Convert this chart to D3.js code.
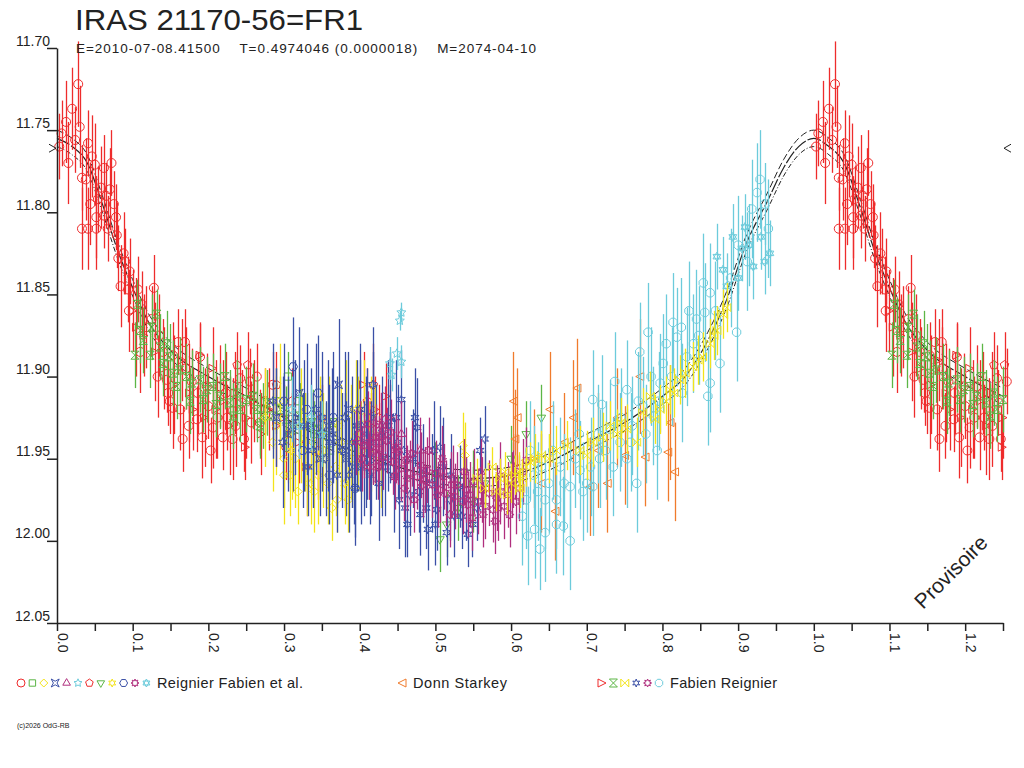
<!DOCTYPE html>
<html>
<head>
<meta charset="utf-8">
<script src="https://cdn.jsdelivr.net/npm/d3@7/dist/d3.min.js"></script>
<style>
  body { margin: 0; background: #fff; }
  svg { display: block; }
  text { font-family: "Liberation Sans", Arial, sans-serif; fill: #222; }
</style>
</head>
<body>
<svg width="1024" height="768"></svg>
<script>
// phase, magnitude, error  (phases < 0.25 are repeated at phase + 1)
var faRedCircle = [
  [0.006,11.752,0.02],[0.012,11.745,0.025],[0.020,11.737,0.025],[0.028,11.722,0.026],[0.030,11.748,0.025],
  [0.024,11.756,0.02],[0.041,11.758,0.02],[0.046,11.766,0.025],[0.033,11.779,0.02],[0.072,11.770,0.02],
  [0.050,11.771,0.025],[0.062,11.773,0.02],[0.038,11.780,0.025],[0.065,11.790,0.02],[0.070,11.786,0.025],
  [0.054,11.792,0.02],[0.075,11.795,0.02],[0.044,11.795,0.025],[0.078,11.803,0.02],[0.062,11.802,0.02],
  [0.052,11.803,0.025],[0.052,11.810,0.025],[0.067,11.810,0.02],[0.033,11.810,0.025],[0.041,11.810,0.025],
  [0.079,11.814,0.02],[0.088,11.825,0.025],[0.090,11.830,0.02],[0.081,11.828,0.02],[0.096,11.836,0.02],
  [0.084,11.845,0.025],[0.094,11.847,0.02],[0.107,11.847,0.02],[0.128,11.846,0.02],[0.095,11.860,0.025],
  [0.112,11.856,0.02],[0.160,11.879,0.02],[0.169,11.879,0.02],[0.149,11.915,0.02],[0.153,11.919,0.025],
  [0.166,11.938,0.02],[0.185,11.926,0.02],[0.192,11.937,0.025],[0.206,11.931,0.025],[0.219,11.937,0.02],
  [0.232,11.938,0.025],[0.242,11.901,0.02],[0.255,11.903,0.02],[0.257,11.928,0.025],[0.189,11.888,0.02],
  [0.198,11.906,0.02],[0.145,11.902,0.02],[0.178,11.903,0.02],[0.215,11.906,0.025],[0.153,11.887,0.02],
  [0.244,11.916,0.02],[0.264,11.900,0.02],[0.268,11.928,0.02],[0.303,11.943,0.02],[0.118,11.870,0.025],
  [0.125,11.865,0.02],[0.135,11.875,0.025],[0.140,11.885,0.02],[0.170,11.895,0.025],[0.200,11.918,0.02],
  [0.225,11.925,0.02],[0.232,11.921,0.02],[0.247,11.938,0.02],[0.275,11.915,0.02],[0.285,11.905,0.02],
  [0.110,11.885,0.025],[0.133,11.900,0.025],[0.147,11.910,0.02],[0.163,11.920,0.025],[0.174,11.930,0.02],
  [0.186,11.910,0.025],[0.203,11.945,0.02],[0.212,11.925,0.025],[0.223,11.910,0.025],[0.236,11.930,0.025],
  [0.003,11.760,0.02],[0.015,11.770,0.025],[0.058,11.785,0.025]
];
var faRedPentagon = [
  [0.238,11.893,0.02],[0.252,11.893,0.02],[0.290,11.905,0.02],[0.310,11.915,0.02],[0.350,11.925,0.02],
  [0.410,11.915,0.02],[0.418,11.905,0.025],[0.425,11.925,0.02],[0.345,11.945,0.025]
];
var frRedRight = [
  [0.100,11.860,0.025],[0.105,11.870,0.03],[0.115,11.875,0.025],[0.130,11.885,0.03],[0.142,11.895,0.025],
  [0.155,11.905,0.03],[0.165,11.890,0.025],[0.175,11.910,0.03],[0.180,11.920,0.025],[0.189,11.887,0.02],
  [0.195,11.925,0.03],[0.206,11.895,0.025],[0.210,11.920,0.03],[0.220,11.915,0.025],[0.228,11.930,0.03],
  [0.235,11.910,0.025],[0.249,11.943,0.02],[0.250,11.925,0.025],[0.260,11.915,0.025],[0.270,11.935,0.025],
  [0.280,11.920,0.025],[0.290,11.930,0.025],[0.300,11.925,0.02],[0.310,11.935,0.025],[0.320,11.940,0.025],
  [0.330,11.955,0.03],[0.345,11.950,0.025],[0.405,11.905,0.02],[0.415,11.930,0.02],[0.420,11.920,0.02],
  [0.435,11.912,0.02],[0.440,11.925,0.02]
];
var frGreenHourglass = [
  [0.103,11.887,0.02],[0.106,11.856,0.015],[0.132,11.862,0.015],[0.110,11.872,0.02],[0.114,11.878,0.02],
  [0.125,11.870,0.02],[0.123,11.887,0.02],[0.136,11.882,0.02],[0.140,11.892,0.02],[0.149,11.888,0.02],
  [0.153,11.898,0.02],[0.162,11.896,0.02],[0.171,11.900,0.02],[0.178,11.904,0.02],[0.189,11.902,0.02],
  [0.198,11.908,0.02],[0.206,11.906,0.02],[0.215,11.912,0.02],[0.222,11.900,0.02],[0.228,11.916,0.02],
  [0.238,11.910,0.02],[0.242,11.920,0.02],[0.250,11.914,0.02],[0.259,11.912,0.02],[0.264,11.920,0.02],
  [0.272,11.924,0.02],[0.277,11.916,0.02],[0.285,11.924,0.02],[0.295,11.920,0.02],[0.303,11.926,0.02],
  [0.312,11.932,0.02],[0.321,11.924,0.02],[0.330,11.930,0.02],[0.338,11.928,0.02],[0.347,11.932,0.02],
  [0.356,11.936,0.02],[0.365,11.928,0.02],[0.176,11.915,0.02],[0.193,11.914,0.02],[0.158,11.906,0.02],
  [0.233,11.924,0.02],[0.210,11.917,0.02],[0.268,11.930,0.02],[0.145,11.880,0.02]
];
var faGreenSquare = [
  [0.305,11.900,0.015],[0.320,11.915,0.02],[0.340,11.935,0.02],[0.360,11.945,0.02],[0.290,11.915,0.02],
  [0.500,11.960,0.02],[0.550,11.965,0.02]
];
var faGreenTriDown = [
  [0.506,11.999,0.02],[0.515,11.990,0.02],[0.530,11.980,0.02],[0.550,11.975,0.02],[0.565,11.965,0.02],
  [0.600,11.950,0.02],[0.620,11.935,0.02],[0.640,11.925,0.02]
];
var faYellowDiamond = [
  [0.275,11.925,0.03],[0.285,11.940,0.03],[0.295,11.915,0.035],[0.305,11.935,0.03],[0.315,11.950,0.03],
  [0.322,11.930,0.035],[0.330,11.955,0.03],[0.338,11.940,0.03],[0.345,11.960,0.03],[0.352,11.945,0.035],
  [0.360,11.930,0.03],[0.368,11.955,0.03],[0.375,11.940,0.035],[0.382,11.925,0.035],[0.390,11.950,0.03],
  [0.398,11.935,0.035],[0.405,11.925,0.035],[0.412,11.945,0.03],[0.420,11.935,0.03],[0.428,11.950,0.03],
  [0.536,11.942,0.02],[0.539,11.948,0.02],[0.300,11.960,0.03],[0.340,11.970,0.025],[0.370,11.975,0.02],
  [0.290,11.930,0.03],[0.308,11.960,0.025],[0.328,11.940,0.03],[0.348,11.935,0.035],[0.358,11.965,0.025],
  [0.372,11.930,0.03],[0.388,11.940,0.035],[0.402,11.945,0.03],[0.415,11.935,0.035],[0.300,11.950,0.03],
  [0.318,11.970,0.02],[0.363,11.980,0.02],[0.385,11.975,0.02]
];
var faYellowStar = [
  [0.310,11.945,0.03],[0.335,11.965,0.025],[0.355,11.950,0.03],[0.380,11.965,0.025],[0.395,11.920,0.03]
];
var faBlueHexagon = [
  [0.312,11.894,0.03],[0.394,11.968,0.03],[0.300,11.915,0.035],[0.330,11.920,0.04],[0.350,11.935,0.035],
  [0.365,11.925,0.04],[0.380,11.945,0.035],[0.400,11.930,0.04],[0.415,11.950,0.035],[0.325,11.945,0.035],
  [0.360,11.960,0.03],[0.345,11.910,0.035]
];
var faBlueCross = [
  [0.290,11.925,0.03],[0.305,11.935,0.035],[0.320,11.910,0.04],[0.335,11.930,0.035],[0.348,11.950,0.035],
  [0.370,11.940,0.04],[0.385,11.920,0.035],[0.392,11.955,0.035],[0.408,11.940,0.04],[0.430,11.935,0.035],
  [0.440,11.925,0.04],[0.372,11.905,0.04],[0.312,11.930,0.04],[0.358,11.930,0.04],[0.382,11.950,0.035],
  [0.402,11.955,0.035],[0.418,11.925,0.04]
];
var frBlueAster = [
  [0.466,11.972,0.025],[0.480,11.984,0.025],[0.490,11.993,0.025],[0.460,11.980,0.03],[0.543,11.996,0.02],
  [0.502,11.981,0.025],[0.549,11.990,0.02],[0.455,11.914,0.03],[0.473,11.925,0.03],[0.476,11.931,0.03],
  [0.417,11.905,0.035],[0.394,11.968,0.035],[0.565,11.938,0.02],[0.559,11.945,0.02],[0.506,11.943,0.025],
  [0.532,11.967,0.025],[0.519,11.975,0.025],[0.484,11.959,0.03],[0.430,11.950,0.035],[0.445,11.960,0.035],
  [0.450,11.940,0.035],[0.438,11.930,0.04],[0.470,11.950,0.03],[0.495,11.965,0.03],[0.510,11.955,0.03],
  [0.525,11.985,0.025],[0.540,11.975,0.025],[0.425,11.965,0.035],[0.410,11.935,0.04],[0.400,11.920,0.04],
  [0.390,11.940,0.04],[0.380,11.925,0.04],[0.370,11.960,0.035],[0.360,11.940,0.035],[0.350,11.925,0.04],
  [0.515,11.995,0.02],[0.498,11.945,0.03],[0.338,11.945,0.035],[0.326,11.930,0.04],[0.452,11.975,0.03],
  [0.285,11.915,0.035],[0.298,11.940,0.04],[0.315,11.925,0.035],[0.332,11.955,0.03],[0.342,11.920,0.04],
  [0.355,11.950,0.035],[0.364,11.935,0.04],[0.376,11.945,0.035],[0.386,11.960,0.035],[0.396,11.930,0.04],
  [0.405,11.950,0.035],[0.414,11.960,0.03],[0.422,11.940,0.035],[0.434,11.955,0.03],[0.448,11.925,0.035],
  [0.458,11.945,0.03],[0.463,11.990,0.02],[0.478,11.970,0.025],[0.488,11.980,0.025],[0.500,11.990,0.025],
  [0.520,11.960,0.025],[0.535,11.985,0.02],[0.555,11.980,0.02]
];
var frPurpleStar8 = [
  [0.400,11.935,0.02],[0.406,11.942,0.02],[0.411,11.929,0.02],[0.417,11.946,0.02],[0.421,11.937,0.02],
  [0.426,11.944,0.02],[0.431,11.949,0.02],[0.436,11.939,0.02],[0.441,11.934,0.02],[0.444,11.952,0.02],
  [0.451,11.946,0.02],[0.455,11.956,0.02],[0.461,11.951,0.02],[0.466,11.959,0.02],[0.469,11.947,0.02],
  [0.476,11.961,0.02],[0.481,11.954,0.02],[0.486,11.963,0.02],[0.489,11.957,0.02],[0.496,11.966,0.02],
  [0.501,11.959,0.02],[0.506,11.969,0.02],[0.511,11.961,0.02],[0.514,11.971,0.02],[0.521,11.966,0.02],
  [0.526,11.973,0.02],[0.529,11.966,0.02],[0.536,11.976,0.02],[0.541,11.969,0.02],[0.546,11.972,0.02],
  [0.551,11.964,0.02],[0.556,11.976,0.02],[0.561,11.969,0.02],[0.566,11.979,0.02],[0.571,11.971,0.02],
  [0.576,11.981,0.02],[0.581,11.974,0.02],[0.586,11.970,0.02],[0.591,11.979,0.02],[0.596,11.972,0.02],
  [0.601,11.966,0.02],[0.606,11.976,0.02],[0.611,11.968,0.02],[0.616,11.958,0.02],[0.620,11.951,0.02],
  [0.403,11.950,0.02],[0.433,11.926,0.02],[0.459,11.968,0.02],[0.491,11.945,0.02],[0.519,11.984,0.02],
  [0.549,11.986,0.02],[0.579,11.988,0.02],[0.472,11.975,0.02],[0.509,11.950,0.02],[0.446,11.961,0.02],
  [0.598,11.984,0.02],[0.424,11.955,0.02],[0.538,11.958,0.02],[0.413,11.940,0.02],[0.428,11.936,0.02],
  [0.448,11.943,0.02],[0.463,11.962,0.02],[0.483,11.966,0.02],[0.503,11.972,0.02],[0.523,11.962,0.02],
  [0.543,11.978,0.02],[0.563,11.984,0.02],[0.583,11.980,0.02],[0.603,11.960,0.02]
];
var faPurpleAster = [
  [0.395,11.940,0.02],[0.412,11.955,0.02],[0.428,11.930,0.02],[0.448,11.945,0.02],[0.585,11.960,0.02],
  [0.605,11.955,0.02]
];
var faPurpleTri = [
  [0.420,11.945,0.02],[0.455,11.935,0.02],[0.480,11.945,0.02],[0.560,11.958,0.02]
];
var faCyanStar = [
  [0.455,11.861,0.006],[0.453,11.866,0.006],[0.449,11.886,0.01],[0.455,11.891,0.01],[0.440,11.892,0.01],
  [0.442,11.899,0.01],[0.320,11.930,0.02],[0.335,11.925,0.02],[0.350,11.935,0.02],[0.310,11.920,0.02]
];
var faCyanDavid = [
  [0.872,11.827,0.02],[0.880,11.835,0.02],[0.893,11.815,0.02],[0.905,11.822,0.02],[0.909,11.809,0.02],
  [0.920,11.833,0.02],[0.942,11.825,0.02],[0.885,11.845,0.02],[0.900,11.840,0.02],[0.930,11.815,0.02],
  [0.935,11.830,0.02],[0.915,11.820,0.025]
];
var frCyanOctagon = [
  [0.622,11.997,0.03],[0.631,11.993,0.03],[0.645,11.995,0.03],[0.669,11.991,0.03],[0.678,12.000,0.03],
  [0.620,11.975,0.03],[0.635,11.970,0.03],[0.650,11.965,0.03],[0.660,11.975,0.03],[0.640,11.955,0.03],
  [0.655,11.945,0.03],[0.625,11.945,0.03],[0.766,11.965,0.03],[0.737,11.903,0.03],[0.708,11.914,0.03],
  [0.720,11.917,0.03],[0.781,11.873,0.03],[0.770,11.885,0.03],[0.814,11.867,0.03],[0.801,11.892,0.03],
  [0.854,11.843,0.03],[0.860,11.912,0.03],[0.863,11.904,0.03],[0.876,11.892,0.03],[0.898,11.873,0.03],
  [0.929,11.780,0.03],[0.918,11.798,0.03],[0.925,11.788,0.03],[0.863,11.849,0.03],[0.856,11.861,0.03],
  [0.797,11.904,0.03],[0.819,11.876,0.03],[0.841,11.880,0.03],[0.832,11.888,0.03],[0.753,11.908,0.03],
  [0.774,11.918,0.03],[0.788,11.924,0.03],[0.731,11.932,0.03],[0.744,11.940,0.03],[0.717,11.950,0.03],
  [0.691,11.957,0.03],[0.700,11.965,0.03],[0.678,11.967,0.03],[0.708,11.967,0.03],[0.793,11.945,0.03],
  [0.753,11.950,0.03],[0.935,11.795,0.025],[0.845,11.865,0.03],[0.826,11.910,0.03],[0.690,11.935,0.03],
  [0.665,11.955,0.03],[0.760,11.930,0.03],[0.630,11.960,0.03],[0.645,11.975,0.03],[0.670,11.965,0.03],
  [0.685,11.950,0.03],[0.695,11.970,0.03],[0.705,11.955,0.03],[0.715,11.935,0.03],[0.725,11.945,0.03],
  [0.735,11.955,0.03],[0.745,11.925,0.03],[0.758,11.940,0.03],[0.768,11.915,0.03],[0.778,11.935,0.03],
  [0.785,11.900,0.03],[0.795,11.915,0.03],[0.805,11.880,0.03],[0.812,11.900,0.03],[0.825,11.870,0.03],
  [0.835,11.860,0.03],[0.848,11.875,0.03],[0.870,11.860,0.03],[0.890,11.840,0.03],[0.900,11.820,0.03],
  [0.912,11.830,0.03],[0.940,11.810,0.03],[0.615,11.985,0.03],[0.660,11.990,0.03],[0.638,12.005,0.025]
];
var dsOrangeLeft = [
  [0.603,11.915,0.03],[0.651,11.920,0.035],[0.608,11.925,0.03],[0.687,11.907,0.03],[0.682,11.925,0.035],
  [0.658,11.982,0.03],[0.605,11.938,0.03],[0.770,11.900,0.035],[0.750,11.948,0.03],[0.777,11.949,0.03],
  [0.816,11.958,0.03],[0.807,11.946,0.03],[0.727,11.965,0.03],[0.704,11.967,0.03],[0.810,11.928,0.035],
  [0.630,11.950,0.03],[0.670,11.940,0.03],[0.715,11.945,0.035],[0.740,11.925,0.03],[0.640,11.965,0.03]
];
var frYellowBowtie = [
  [0.575,11.955,0.012],[0.585,11.962,0.012],[0.592,11.958,0.012],[0.600,11.965,0.012],[0.605,11.960,0.012],
  [0.610,11.958,0.012],[0.615,11.962,0.012],[0.620,11.955,0.012],[0.625,11.952,0.012],[0.632,11.950,0.015],
  [0.640,11.948,0.015],[0.650,11.950,0.015],[0.660,11.945,0.015],[0.674,11.942,0.015],[0.691,11.945,0.015],
  [0.708,11.940,0.015],[0.721,11.937,0.015],[0.731,11.930,0.015],[0.740,11.935,0.015],[0.753,11.932,0.015],
  [0.766,11.940,0.015],[0.774,11.922,0.015],[0.784,11.912,0.015],[0.797,11.920,0.015],[0.810,11.908,0.015],
  [0.815,11.910,0.015],[0.823,11.902,0.015],[0.830,11.898,0.015],[0.840,11.894,0.015],[0.847,11.890,0.015],
  [0.853,11.888,0.015],[0.863,11.880,0.015],[0.868,11.875,0.015],[0.872,11.872,0.015],[0.880,11.862,0.015],
  [0.885,11.858,0.015],[0.580,11.970,0.012],[0.595,11.972,0.012],[0.612,11.968,0.012],[0.555,11.962,0.012],
  [0.565,11.968,0.012],[0.700,11.948,0.015],[0.745,11.928,0.015],[0.790,11.926,0.015],[0.805,11.915,0.015]
];

// fitted light curve
var modelPhase = [0.00,0.02,0.04,0.06,0.08,0.10,0.12,0.15,0.20,0.25,0.30,0.35,0.40,0.45,0.50,0.55,0.60,0.65,0.70,0.75,0.80,0.83,0.86,0.885,0.91,0.94,0.96,0.98,1.00];
var modelMag   = [11.755,11.760,11.770,11.795,11.823,11.846,11.866,11.884,11.900,11.912,11.925,11.937,11.947,11.955,11.960,11.962,11.960,11.952,11.940,11.928,11.912,11.900,11.878,11.853,11.820,11.792,11.773,11.760,11.755];
var modelSigma = 0.005;
var maxLevel = 11.761;

var xTicks = d3.range(0, 25).map(function(i){ return i * 0.05; }).concat([1.25]);
var yTicks = [11.70,11.75,11.80,11.85,11.90,11.95,12.00,12.05];

var RED = "#ee2c2c", GREEN = "#5cb646", YELLOW = "#f3e31b", BLUE = "#3a4fa6",
    PURPLE = "#b02f7e", CYAN = "#6ccbdb", ORANGE = "#f07b2c";

var svg = d3.select("svg");
var x = d3.scaleLinear().domain([0, 1.25]).range([57, 1003]);
var y = d3.scaleLinear().domain([11.70, 12.05]).range([48, 623]);

// symbol shapes
function ring(n, r, rot) {
  var p = [];
  for (var i = 0; i < n; i++) { var a = rot + i * 2 * Math.PI / n; p.push([r * Math.cos(a), r * Math.sin(a)]); }
  return p;
}
function poly(n, r, rot) {
  return "M" + ring(n, r, rot).map(function(q){ return q[0].toFixed(2) + "," + q[1].toFixed(2); }).join("L") + "Z";
}
function star(n, r1, r2, rot) {
  var p = [];
  for (var i = 0; i < 2 * n; i++) {
    var a = rot + i * Math.PI / n, r = i % 2 ? r2 : r1;
    p.push((r * Math.cos(a)).toFixed(2) + "," + (r * Math.sin(a)).toFixed(2));
  }
  return "M" + p.join("L") + "Z";
}
var SYM = {
  circle:    function(r){ return "M" + r + ",0A" + r + "," + r + " 0 1,1 " + (-r) + ",0A" + r + "," + r + " 0 1,1 " + r + ",0Z"; },
  square:    function(r){ var s = r * 0.8; return "M" + (-s) + "," + (-s) + "H" + s + "V" + s + "H" + (-s) + "Z"; },
  diamond:   function(r){ return "M0," + (-r) + "L" + r + ",0L0," + r + "L" + (-r) + ",0Z"; },
  cross4:    function(r){ var k = r * 0.45; return "M" + (-r) + "," + (-r) + "L0," + (-k) + "L" + r + "," + (-r) + "L" + k + ",0L" + r + "," + r + "L0," + k + "L" + (-r) + "," + r + "L" + (-k) + ",0Z"; },
  triUp:     function(r){ return poly(3, r * 1.1, -Math.PI / 2); },
  star5:     function(r){ return star(5, r * 1.05, r * 0.5, -Math.PI / 2); },
  pentagon:  function(r){ return poly(5, r, -Math.PI / 2); },
  triDown:   function(r){ return poly(3, r * 1.1, Math.PI / 2); },
  star6:     function(r){ return star(6, r, r * 0.5, -Math.PI / 2); },
  hexagon:   function(r){ return poly(6, r, 0); },
  aster:     function(r){ return star(6, r, r * 0.35, -Math.PI / 2); },
  david:     function(r){ return poly(3, r, -Math.PI / 2) + poly(3, r, Math.PI / 2); },
  triLeft:   function(r){ return "M" + (-r) + ",0L" + r + "," + (-r) + "L" + r + "," + r + "Z"; },
  triRight:  function(r){ return "M" + r + ",0L" + (-r) + "," + (-r) + "L" + (-r) + "," + r + "Z"; },
  hourglass: function(r){ return "M" + (-r) + "," + (-r) + "H" + r + "L" + (-r) + "," + r + "H" + r + "Z"; },
  bowtie:    function(r){ return "M" + (-r) + "," + (-r) + "L" + r + "," + r + "V" + (-r) + "L" + (-r) + "," + r + "Z"; },
  snow:      function(r){ return star(6, r, r * 0.45, -Math.PI / 2); },
  star8:     function(r){ return star(8, r, r * 0.55, -Math.PI / 2); },
  octagon:   function(r){ return poly(8, r, Math.PI / 8); }
};

// fitted curve (drawn first, data goes over it)
var model = modelPhase.map(function(p, i){ return [p, modelMag[i]]; });
modelPhase.forEach(function(p, i){ if (p > 0 && p + 1 <= 1.25) model.push([p + 1, modelMag[i]]); });
function curveLine(off) {
  return d3.line().curve(d3.curveMonotoneX)
    .x(function(d){ return x(d[0]); })
    .y(function(d){ return y(d[1] + off); })(model);
}
svg.append("path").attr("d", curveLine(0)).attr("fill", "none").attr("stroke", "#222")
  .attr("stroke-width", 1.2).attr("stroke-dasharray", "14,2");
svg.append("path").attr("d", curveLine(-modelSigma)).attr("fill", "none").attr("stroke", "#222")
  .attr("stroke-width", 1).attr("stroke-dasharray", "7,3");
svg.append("path").attr("d", curveLine(modelSigma)).attr("fill", "none").attr("stroke", "#222")
  .attr("stroke-width", 1).attr("stroke-dasharray", "5,2,1,2");

var drawOrder = [
  { data: frRedRight, sym: "triRight", color: RED, r: 4 },
  { data: faRedCircle, sym: "circle", color: RED, r: 4.5 },
  { data: faRedPentagon, sym: "pentagon", color: RED, r: 4.5 },
  { data: frGreenHourglass, sym: "hourglass", color: GREEN, r: 4 },
  { data: faGreenSquare, sym: "square", color: GREEN, r: 4.5 },
  { data: faGreenTriDown, sym: "triDown", color: GREEN, r: 4.5 },
  { data: faYellowDiamond, sym: "diamond", color: YELLOW, r: 4.5 },
  { data: faBlueHexagon, sym: "hexagon", color: BLUE, r: 4.5 },
  { data: faBlueCross, sym: "cross4", color: BLUE, r: 4 },
  { data: faYellowStar, sym: "star6", color: YELLOW, r: 4.5 },
  { data: frBlueAster, sym: "snow", color: BLUE, r: 4.5 },
  { data: frPurpleStar8, sym: "star8", color: PURPLE, r: 4.5 },
  { data: faPurpleAster, sym: "aster", color: PURPLE, r: 4.5 },
  { data: faPurpleTri, sym: "triUp", color: PURPLE, r: 4.5 },
  { data: dsOrangeLeft, sym: "triLeft", color: ORANGE, r: 4 },
  { data: frCyanOctagon, sym: "octagon", color: CYAN, r: 4.5 },
  { data: faCyanStar, sym: "star5", color: CYAN, r: 4.5 },
  { data: faCyanDavid, sym: "david", color: CYAN, r: 4.5 },
  { data: frYellowBowtie, sym: "bowtie", color: YELLOW, r: 4 }
];

var plot = svg.append("g");

drawOrder.forEach(function(s) {
  var pts = [];
  s.data.forEach(function(d) {
    pts.push(d);
    if (d[0] + 1 <= 1.255) pts.push([d[0] + 1, d[1], d[2]]);
  });
  var g = plot.append("g").attr("stroke", s.color).attr("fill", "none");
  g.selectAll("line").data(pts).join("line")
    .attr("x1", function(d){ return Math.round(x(d[0])) + 0.5; })
    .attr("x2", function(d){ return Math.round(x(d[0])) + 0.5; })
    .attr("y1", function(d){ return y(d[1] - d[2]); })
    .attr("y2", function(d){ return y(d[1] + d[2]); })
    .attr("stroke-width", 1.3);
  g.selectAll("path").data(pts).join("path")
    .attr("transform", function(d){ return "translate(" + x(d[0]) + "," + y(d[1]) + ")"; })
    .attr("d", SYM[s.sym](s.r))
    .attr("stroke-width", 1);
});

// max-level markers
var ym = y(maxLevel);
svg.append("path").attr("d", "M49," + (ym - 4) + "L56," + ym + "L49," + (ym + 4))
  .attr("fill", "none").attr("stroke", "#222");
svg.append("path").attr("d", "M1011," + (ym - 4) + "L1004," + ym + "L1011," + (ym + 4))
  .attr("fill", "none").attr("stroke", "#222");

// axes
var fmt = d3.format(".1f");
var xAxis = svg.append("g").attr("transform", "translate(0,623)")
  .call(d3.axisBottom(x).tickValues(xTicks).tickSize(8).tickSizeOuter(0)
    .tickFormat(function(d, i){ return (i % 2 === 0 && d < 1.25) ? fmt(d) : ""; }));
xAxis.selectAll("text")
  .attr("transform", "rotate(90)")
  .attr("x", 10).attr("y", 0).attr("dy", "0").attr("dx", "0")
  .style("text-anchor", "start")
  .style("font-size", "14px");

var yAxis = svg.append("g").attr("transform", "translate(57,0)")
  .call(d3.axisLeft(y).tickValues(yTicks).tickSize(10).tickSizeOuter(0).tickFormat(d3.format(".2f")));
yAxis.selectAll("text").attr("x", -7).attr("dy", "-3").style("font-size", "14px");

[xAxis, yAxis].forEach(function(a){
  a.selectAll("path, line").attr("stroke", "#222").attr("stroke-width", 1.5);
  a.selectAll("text").attr("fill", "#222").attr("font-family", "Liberation Sans, Arial, sans-serif");
});

// titles
svg.append("text").attr("x", 75).attr("y", 30).attr("textLength", 288)
  .attr("lengthAdjust", "spacingAndGlyphs").style("font-size", "30px").text("IRAS 21170-56=FR1");
svg.append("text").attr("x", 76).attr("y", 53).attr("xml:space", "preserve")
  .style("white-space", "pre").attr("textLength", 460)
  .attr("lengthAdjust", "spacing").style("font-size", "13.5px")
  .text("E=2010-07-08.41500    T=0.4974046 (0.0000018)    M=2074-04-10");

// watermark
svg.append("text").attr("transform", "translate(956,577) rotate(-45)")
  .attr("text-anchor", "middle").style("font-size", "21px").text("Provisoire");

// legend
var legendGroups = [
  { label: "Reignier Fabien et al.", x0: 21, tx: 157, tl: 146,
    syms: [["circle",RED],["square",GREEN],["diamond",YELLOW],["cross4",BLUE],["triUp",PURPLE],["star5",CYAN],
           ["pentagon",RED],["triDown",GREEN],["star6",YELLOW],["hexagon",BLUE],["star8",PURPLE],["david",CYAN]] },
  { label: "Donn Starkey", x0: 402, tx: 413, tl: 94, syms: [["triLeft",ORANGE]] },
  { label: "Fabien Reignier", x0: 602, tx: 670, tl: 107,
    syms: [["triRight",RED],["hourglass",GREEN],["bowtie",YELLOW],["snow",BLUE],["star8",PURPLE],["octagon",CYAN]] }
];
var lg = svg.append("g");
legendGroups.forEach(function(grp) {
  lg.selectAll(null).data(grp.syms).join("path")
    .attr("transform", function(d, i){ return "translate(" + (grp.x0 + i * 11.4) + ",683)"; })
    .attr("d", function(d){ return SYM[d[0]](4); })
    .attr("fill", "none").attr("stroke", function(d){ return d[1]; });
  lg.append("text").attr("x", grp.tx).attr("y", 688).attr("textLength", grp.tl)
    .attr("lengthAdjust", "spacing").style("font-size", "14.5px").text(grp.label);
});

svg.append("text").attr("x", 17).attr("y", 728).style("font-size", "7px").text("(c)2026 OdG-RB");
</script>
</body>
</html>
